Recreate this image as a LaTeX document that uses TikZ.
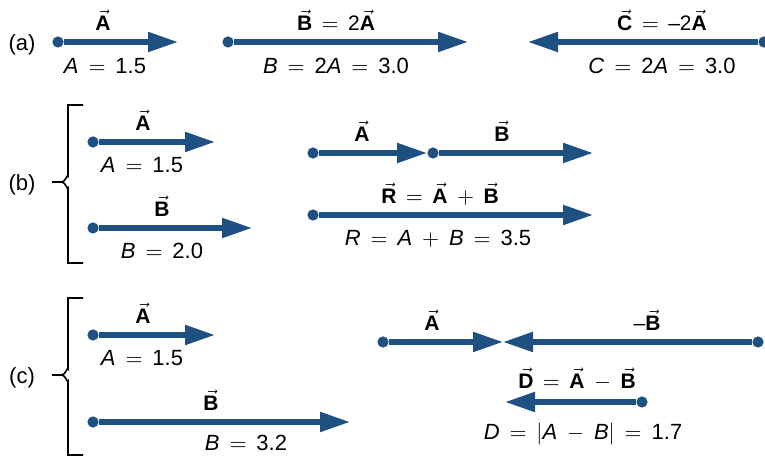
\documentclass[tikz,border=0pt]{standalone}
\usepackage{fontspec}
\setmainfont{Liberation Sans}
\usetikzlibrary{arrows.meta}

\definecolor{vecblue}{RGB}{30,80,130}
\newcommand{\vb}[1]{$\vec{\mbox{\textbf{#1}}}$}
\newcommand{\sym}[1]{\hspace{0.45em}$#1$\hspace{0.45em}}

\tikzset{
  vec/.style={draw=vecblue, line width=2.6pt, -{Triangle[length=15pt,width=9.5pt]}},
  tail/.style={circle, fill=vecblue, inner sep=0pt, minimum size=5.6pt},
  vlab/.style={anchor=base, inner sep=0pt, font=\fontsize{10.5}{12}\selectfont},
  slab/.style={anchor=base, inner sep=0pt, font=\fontsize{11}{13}\selectfont},
  part/.style={inner sep=0pt, font=\fontsize{11}{13}\selectfont},
  brace/.style={draw=black, line width=0.8pt},
}

\begin{document}
\begin{tikzpicture}[x=0.5pt, y=-0.5pt]
\useasboundingbox (0,0) rectangle (765,458);

% (a) scaling a vector
\node[part] (pa) at (22,45) {(a)};
\node[tail] (aA0) at (58,42) {};
\coordinate (aA1) at (178,42);
\draw[vec] (aA0) -- (aA1);
\node[vlab] (aAv) at (103,31) {\vb{A}};
\node[slab] (aAs) at (105,74) {\textit{A}\sym{=}1.5};

\node[tail] (aB0) at (228,42) {};
\coordinate (aB1) at (468,42);
\draw[vec] (aB0) -- (aB1);
\node[vlab] (aBv) at (336,31) {\vb{B}\sym{=}2\vb{A}};
\node[slab] (aBs) at (336,74) {\textit{B}\sym{=}2\textit{A}\sym{=}3.0};

\node[tail] (aC0) at (764,42) {};
\coordinate (aC1) at (528,42);
\draw[vec] (aC0) -- (aC1);
\node[vlab] (aCv) at (662,31) {\vb{C}\sym{=}–2\vb{A}};
\node[slab] (aCs) at (662,74) {\textit{C}\sym{=}2\textit{A}\sym{=}3.0};

% (b) adding two vectors
\node[part] (pb) at (22,185) {(b)};
\draw[brace] (83,105) -- (68,105) -- (68,176) to[out=90,in=0] (62,182) -- (52,182);
\draw[brace] (62,182) to[out=0,in=-90] (68,188) -- (68,263) -- (83,263);

\node[tail] (bA0) at (93,142) {};
\coordinate (bA1) at (215,142);
\draw[vec] (bA0) -- (bA1);
\node[vlab] (bAv) at (143,131) {\vb{A}};
\node[slab] (bAs) at (142,173) {\textit{A}\sym{=}1.5};

\node[tail] (bB0) at (93,228) {};
\coordinate (bB1) at (252,228);
\draw[vec] (bB0) -- (bB1);
\node[vlab] (bBv) at (162,217) {\vb{B}};
\node[slab] (bBs) at (162,259) {\textit{B}\sym{=}2.0};

\node[tail] (sA0) at (313,153) {};
\node[tail] (sB0) at (433,153) {};
\coordinate (sB1) at (593,153);
\draw[vec] (sA0) -- (sB0);
\draw[vec] (sB0) -- (sB1);
\node[vlab] (sAv) at (362,142) {\vb{A}};
\node[vlab] (sBv) at (502,142) {\vb{B}};

\node[tail] (sR0) at (313,215) {};
\coordinate (sR1) at (593,215);
\draw[vec] (sR0) -- (sR1);
\node[vlab] (sRv) at (440,204) {\vb{R}\sym{=}\vb{A}\sym{+}\vb{B}};
\node[slab] (sRs) at (438,246) {\textit{R}\sym{=}\textit{A}\sym{+}\textit{B}\sym{=}3.5};

% (c) subtracting two vectors
\node[part] (pc) at (22,378) {(c)};
\draw[brace] (83,298) -- (68,298) -- (68,369) to[out=90,in=0] (62,375) -- (52,375);
\draw[brace] (62,375) to[out=0,in=-90] (68,381) -- (68,455) -- (83,455);

\node[tail] (cA0) at (93,335) {};
\coordinate (cA1) at (215,335);
\draw[vec] (cA0) -- (cA1);
\node[vlab] (cAv) at (143,324) {\vb{A}};
\node[slab] (cAs) at (142,366) {\textit{A}\sym{=}1.5};

\node[tail] (cB0) at (93,422) {};
\coordinate (cB1) at (350,422);
\draw[vec] (cB0) -- (cB1);
\node[vlab] (cBv) at (211,411) {\vb{B}};
\node[slab] (cBs) at (246,451) {\textit{B}\sym{=}3.2};

\node[tail] (dA0) at (383,342) {};
\coordinate (dM) at (503,342);
\node[tail] (dB0) at (758,342) {};
\draw[vec] (dA0) -- (dM);
\draw[vec] (dB0) -- (dM);
\node[vlab] (dAv) at (432,331) {\vb{A}};
\node[vlab] (dBv) at (647,331) {–\vb{B}};

\node[tail] (dD0) at (642,402) {};
\coordinate (dD1) at (505,402);
\draw[vec] (dD0) -- (dD1);
\node[vlab] (dDv) at (577,389) {\vb{D}\sym{=}\vb{A}\sym{-}\vb{B}};
\node[slab] (dDs) at (583,440) {\textit{D}\sym{=}$\bigl|$\textit{A}\sym{-}\textit{B}$\bigr|$\sym{=}1.7};
\end{tikzpicture}
\end{document}
